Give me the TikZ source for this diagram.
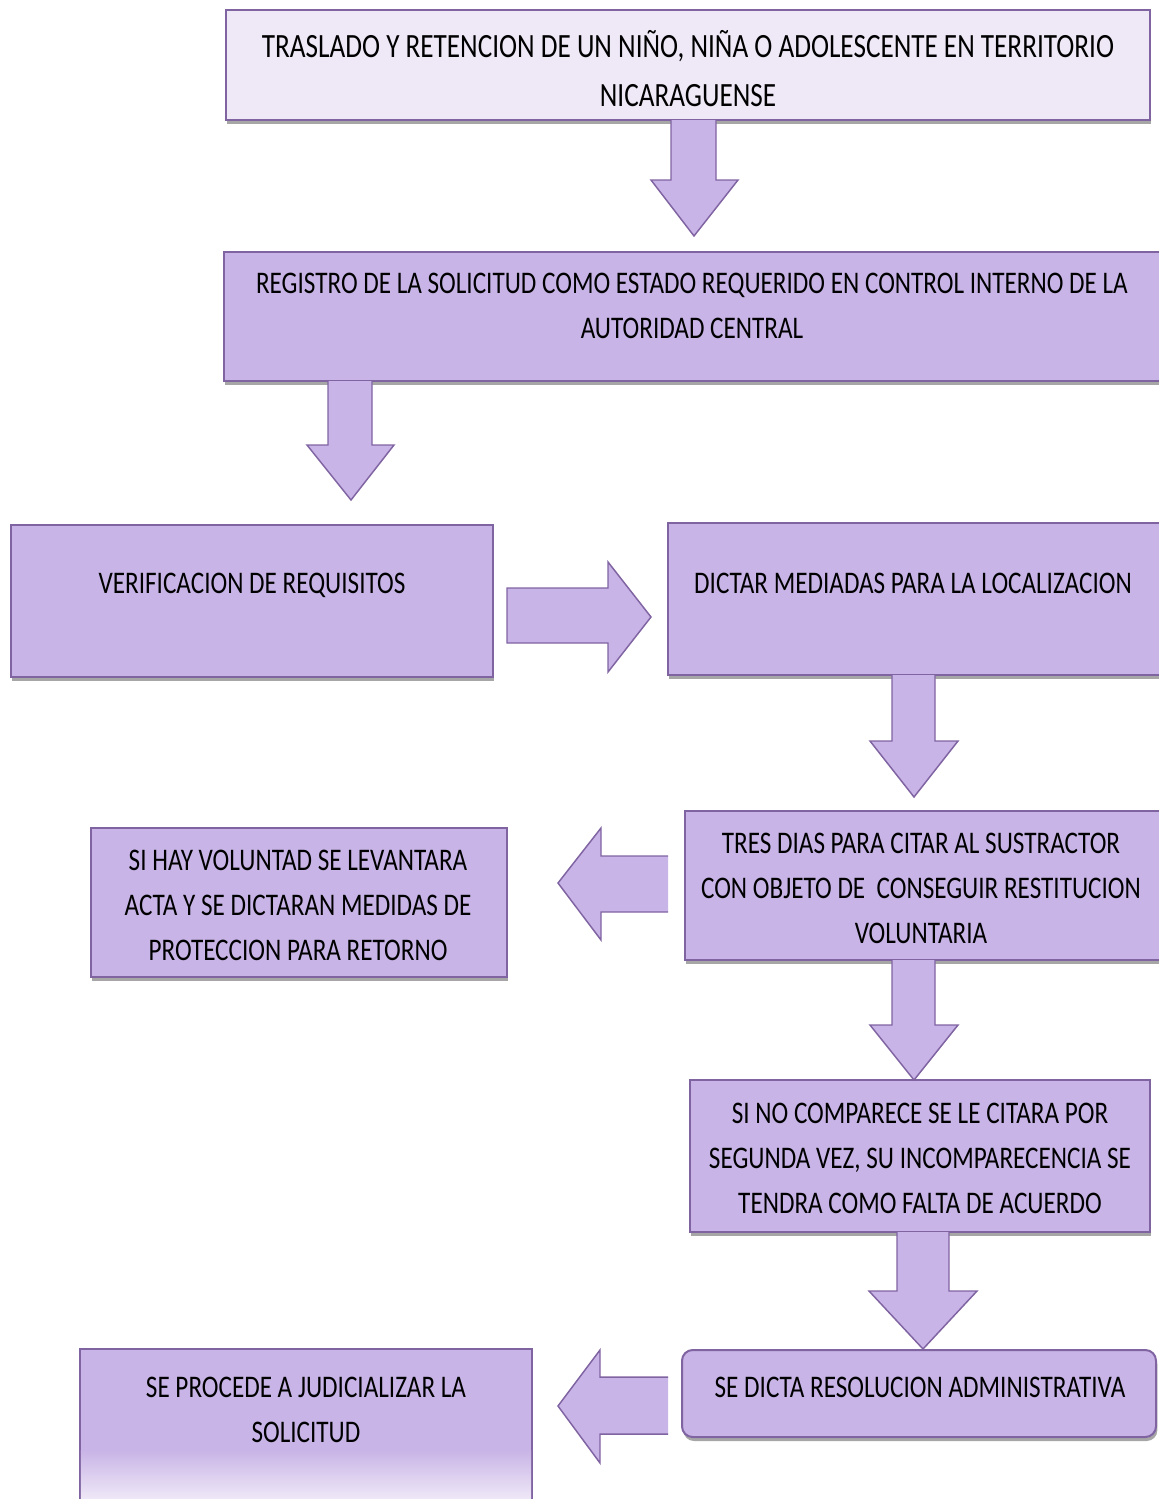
\documentclass[tikz,border=0pt]{standalone}
\usepackage{fontspec}
\newfontfamily\cf[FakeStretch=0.8]{Carlito}
\usetikzlibrary{shadows,fit}
\definecolor{lav}{RGB}{200,180,230}
\definecolor{lavlight}{RGB}{239,232,247}
\definecolor{bord}{RGB}{128,100,162}
\tikzset{
  box/.style={draw=bord, line width=1.5pt, fill=lav, inner sep=0pt,
    drop shadow={shadow xshift=1pt, shadow yshift=-3pt, opacity=0.35, fill=black}},
  blk/.style={draw=bord, line width=1.1pt, fill=lav, line join=miter},
  txt/.style={align=center, inner sep=0pt, font=\cf\fontsize{23.6}{33.75}\selectfont},
  txttop/.style={align=center, inner sep=0pt, font=\cf\fontsize{25.5}{36.75}\selectfont}
}
\begin{document}
\begin{tikzpicture}[x=0.75pt,y=-0.75pt]
\useasboundingbox (0,0) rectangle (1158,1499);
% boxes
\node[box, fill=lavlight, fit={(226,10)(1150,120)}] (b1) {};
\node[box, fit={(224,252)(1175,381)}] (b2) {};
\node[box, fit={(11,525)(493,677)}] (b3) {};
\node[box, fit={(668,523)(1175,675)}] (b4) {};
\node[box, fit={(685,811)(1175,960)}] (b5) {};
\node[box, fit={(91,828)(507,977)}] (b6) {};
\node[box, fit={(690,1080)(1150,1232)}] (b7) {};
\node[box, rounded corners=8pt, fit={(682,1350)(1156,1437)}] (b8) {};
\node[box, fit={(80,1349)(532,1530)}] (b9) {};
\shade[top color=lav, bottom color=lavlight] (80.8,1450) rectangle (531.2,1499);
% block arrows
\draw[blk] (671,120) -- (671,180) -- (651,180) -- (694,236) -- (738,180) -- (716,180) -- (716,120);
\draw[blk] (328,381) -- (328,445) -- (307,445) -- (351,500) -- (394,445) -- (372,445) -- (372,381);
\draw[blk] (507,588) -- (608,588) -- (608,562) -- (651,617) -- (608,672) -- (608,643) -- (507,643) -- cycle;
\draw[blk] (892,675) -- (892,741) -- (870,741) -- (914,797) -- (958,741) -- (935,741) -- (935,675);
\draw[blk] (668,856) -- (601,856) -- (601,828) -- (558,883) -- (601,940) -- (601,912) -- (668,912);
\draw[blk] (892,960) -- (892,1025) -- (870,1025) -- (914,1080) -- (958,1025) -- (935,1025) -- (935,960);
\draw[blk] (897,1232) -- (897,1291) -- (869,1291) -- (923,1349) -- (977,1291) -- (949,1291) -- (949,1232);
\draw[blk] (668,1377) -- (600,1377) -- (600,1350) -- (558,1406) -- (600,1463) -- (600,1434) -- (668,1434);
% texts
\node[txttop] (t1) at (688,68.5) {TRASLADO Y RETENCION DE UN NIÑO, NIÑA O ADOLESCENTE EN TERRITORIO\\NICARAGUENSE};
\node[txt] (t2) at (692,306) {REGISTRO DE LA SOLICITUD COMO ESTADO REQUERIDO EN CONTROL INTERNO DE LA\\AUTORIDAD CENTRAL};
\node[txt] (t3) at (252,585) {VERIFICACION DE REQUISITOS};
\node[txt] (t4) at (913,583) {DICTAR MEDIADAS PARA LA LOCALIZACION};
\node[txt] (t5) at (921,888) {TRES DIAS PARA CITAR AL SUSTRACTOR\\CON OBJETO DE\ \ CONSEGUIR RESTITUCION\\VOLUNTARIA};
\node[txt] (t6) at (298,905) {SI HAY VOLUNTAD SE LEVANTARA\\ACTA Y SE DICTARAN MEDIDAS DE\\PROTECCION PARA RETORNO};
\node[txt] (t7) at (920,1158) {SI NO COMPARECE SE LE CITARA POR\\SEGUNDA VEZ, SU INCOMPARECENCIA SE\\TENDRA COMO FALTA DE ACUERDO};
\node[txt] (t8) at (920,1387) {SE DICTA RESOLUCION ADMINISTRATIVA};
\node[txt] (t9) at (306,1409.5) {SE PROCEDE A JUDICIALIZAR LA\\SOLICITUD};
\end{tikzpicture}
\end{document}
